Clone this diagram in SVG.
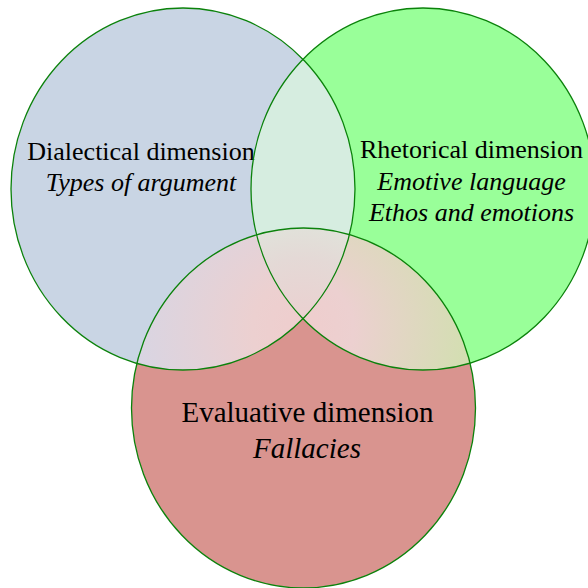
<svg xmlns="http://www.w3.org/2000/svg" width="588" height="588" viewBox="0 0 588 588">
  <style>
    .outline { fill: none; stroke: #0b820b; stroke-width: 1.3; }
    .lbl { font-family: "Liberation Serif", "Times New Roman", serif; fill: #000; text-anchor: middle; }
    .top { font-size: 26px; }
    .bot { font-size: 29px; }
    .it { font-style: italic; }
  </style>
  <defs>
    <ellipse id="eLeft" cx="183" cy="189" rx="172" ry="181"/>
    <ellipse id="eRight" cx="423" cy="189" rx="172" ry="181"/>
    <ellipse id="eBottom" cx="303.5" cy="408" rx="172" ry="180"/>
    <clipPath id="clipLeft"><use href="#eLeft"/></clipPath>
    <clipPath id="clipRight"><use href="#eRight"/></clipPath>
    <radialGradient id="gLB" gradientUnits="userSpaceOnUse" cx="303" cy="330" r="170">
      <stop offset="0" stop-color="#efcdcd"/>
      <stop offset="0.3" stop-color="#ecd0d0"/>
      <stop offset="1" stop-color="#d8d5e3"/>
    </radialGradient>
    <radialGradient id="gRB" gradientUnits="userSpaceOnUse" cx="303" cy="330" r="170">
      <stop offset="0" stop-color="#efcdcd"/>
      <stop offset="0.3" stop-color="#ecd0d0"/>
      <stop offset="1" stop-color="#d2dfb0"/>
    </radialGradient>
    <radialGradient id="gT" gradientUnits="userSpaceOnUse" cx="303" cy="330" r="120">
      <stop offset="0" stop-color="#eccfcf"/>
      <stop offset="0.6" stop-color="#e4d9d6"/>
      <stop offset="1" stop-color="#dfe6dc"/>
    </radialGradient>
  </defs>

  <g id="fills">
    <use href="#eLeft" fill="#c9d5e4"/>
    <use href="#eRight" fill="#99ff99"/>
    <use href="#eBottom" fill="#d9948f"/>
    <g id="overlaps">
      <use href="#eRight" fill="#d6ede0" clip-path="url(#clipLeft)"/>
      <use href="#eBottom" fill="url(#gLB)" clip-path="url(#clipLeft)"/>
      <use href="#eBottom" fill="url(#gRB)" clip-path="url(#clipRight)"/>
      <g clip-path="url(#clipLeft)">
        <use href="#eBottom" fill="url(#gT)" clip-path="url(#clipRight)"/>
      </g>
    </g>
  </g>

  <g id="node-dialectical">
    <use href="#eLeft" class="outline"/>
    <text class="lbl top" x="141" y="160">Dialectical dimension</text>
    <text class="lbl top it" x="141" y="191">Types of argument</text>
  </g>
  <g id="node-rhetorical">
    <use href="#eRight" class="outline"/>
    <text class="lbl top" x="471.5" y="158">Rhetorical dimension</text>
    <text class="lbl top it" x="471.5" y="189.5">Emotive language</text>
    <text class="lbl top it" x="471.5" y="221">Ethos and emotions</text>
  </g>
  <g id="node-evaluative">
    <use href="#eBottom" class="outline"/>
    <text class="lbl bot" x="307.5" y="422">Evaluative dimension</text>
    <text class="lbl bot it" x="307" y="458">Fallacies</text>
  </g>
</svg>
